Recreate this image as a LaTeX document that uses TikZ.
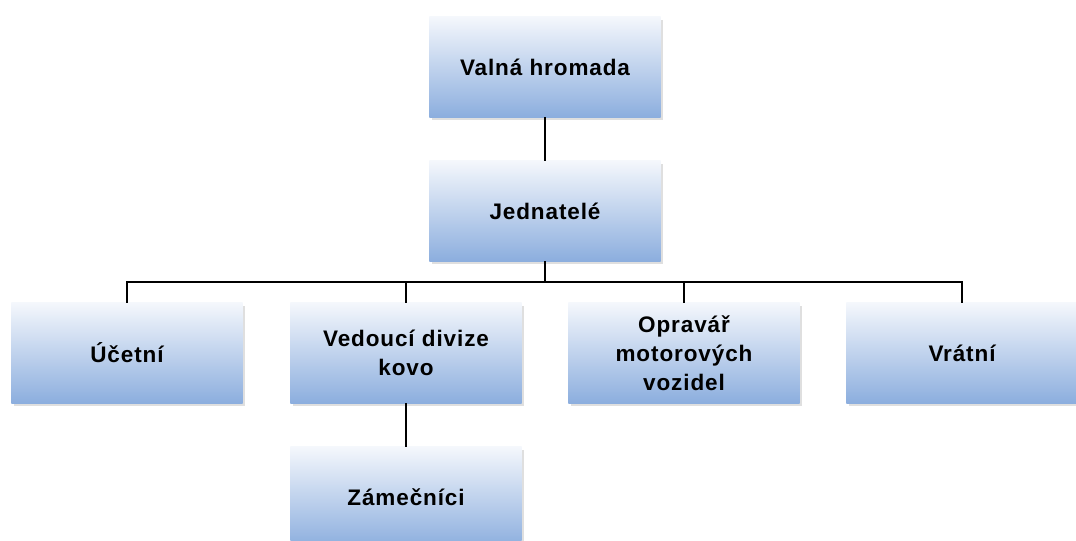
\documentclass[tikz,border=0pt]{standalone}
\usepackage{fontspec}
\setmainfont{Liberation Sans}[LetterSpace=4]
\usetikzlibrary{shadows}
\definecolor{boxtop}{RGB}{244,247,252}
\definecolor{boxbot}{RGB}{140,174,222}
\begin{document}
\begin{tikzpicture}[
    x=0.025cm, y=-0.025cm,
    unit/.style={top color=boxtop, bottom color=boxbot, minimum width=5.78cm,
                 minimum height=2.5cm, inner sep=0pt, align=center,
                 drop shadow={opacity=0.25, shadow xshift=2pt, shadow yshift=-2pt},
                 font=\fontsize{16}{20.5}\selectfont\bfseries},
    link/.style={line width=1.4pt}
]
\fill[white] (0,0) rectangle (1076,540);
\path[use as bounding box, clip] (0,0) rectangle (1076,540);

\node[unit] (valna) at (545, 67) {Valná hromada};
\node[unit] (jed)   at (545,211) {Jednatelé};

\node[unit] (uce) at (127,353) {Účetní};
\node[unit] (ved) at (406,353) {Vedoucí divize\\kovo};
\node[unit] (opr) at (684,353) {Opravář\\motorových\\vozidel};
\node[unit] (vra) at (962,353) {Vrátní};

\node[unit] (zam) at (406,497) {Zámečníci};

\draw[link] (valna) -- (jed);
\draw[link] (jed.south) -- ++(0,21) -| (uce.north);
\draw[link] (jed.south) -- ++(0,21) -| (ved.north);
\draw[link] (jed.south) -- ++(0,21) -| (opr.north);
\draw[link] (jed.south) -- ++(0,21) -| (vra.north);
\draw[link] (ved) -- (zam);
\end{tikzpicture}
\end{document}
